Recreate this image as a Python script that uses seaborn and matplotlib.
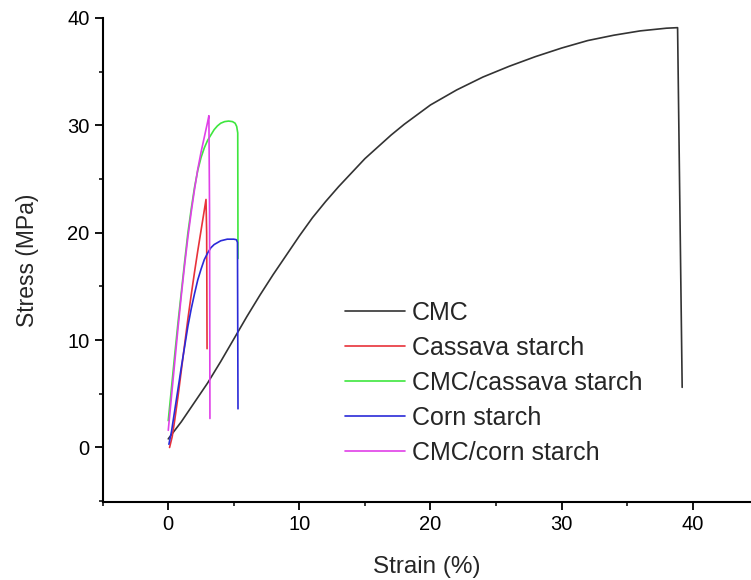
import matplotlib
matplotlib.use("Agg")
import matplotlib.pyplot as plt
import seaborn as sns
import pandas as pd
from matplotlib.ticker import MultipleLocator

# ---- data ----
cmc_x = [0.0, 1.0, 2.0, 3.0, 4.0, 5.0, 6.0, 7.0, 8.0, 9.0, 10.0, 11.0, 12.0, 13.0, 14.0, 15.0,
         16.0, 17.0, 18.0, 19.0, 20.0, 22.0, 24.0, 26.0, 28.0, 30.0, 32.0, 34.0, 36.0, 38.0, 38.85, 39.2]
cmc_y = [0.8, 2.4, 4.2, 6.0, 8.0, 10.1, 12.2, 14.2, 16.1, 17.9, 19.7, 21.4, 22.9, 24.3, 25.6, 26.9,
         28.0, 29.1, 30.1, 31.0, 31.9, 33.3, 34.5, 35.5, 36.4, 37.2, 37.9, 38.4, 38.8, 39.05, 39.1, 5.6]

cassava_x = [0.1, 0.3, 0.5, 0.75, 1.0, 1.25, 1.5, 1.75, 2.0, 2.25, 2.5, 2.75, 2.88, 2.93, 2.96]
cassava_y = [0.0, 1.0, 2.6, 4.8, 7.2, 9.6, 12.0, 14.2, 16.3, 18.3, 20.2, 22.1, 23.1, 20.0, 9.2]

cmc_cassava_x = [0.0, 0.25, 0.5, 0.75, 1.0, 1.25, 1.5, 1.75, 2.0, 2.25, 2.5, 2.75, 3.0, 3.25, 3.5,
                 3.75, 4.0, 4.3, 4.6, 4.9, 5.1, 5.22, 5.3, 5.32]
cmc_cassava_y = [2.5, 5.6, 8.7, 11.7, 14.5, 17.3, 20.0, 22.2, 24.2, 25.8, 27.0, 27.9, 28.6, 29.1, 29.6,
                 29.95, 30.2, 30.35, 30.4, 30.35, 30.2, 29.9, 29.3, 17.6]

corn_x = [0.05, 0.25, 0.5, 0.75, 1.0, 1.25, 1.5, 1.75, 2.0, 2.25, 2.5, 2.75, 3.0, 3.25, 3.5, 4.0,
          4.5, 5.0, 5.2, 5.28, 5.32]
corn_y = [0.3, 1.5, 3.5, 5.5, 7.5, 9.4, 11.3, 12.9, 14.3, 15.6, 16.6, 17.5, 18.1, 18.6, 18.9, 19.25,
          19.4, 19.4, 19.35, 19.1, 3.6]

cmc_corn_x = [0.0, 0.25, 0.5, 0.75, 1.0, 1.25, 1.5, 1.75, 2.0, 2.25, 2.5, 2.75, 3.0, 3.1, 3.15, 3.18]
cmc_corn_y = [1.6, 4.8, 8.0, 11.2, 14.2, 17.0, 19.6, 21.9, 24.0, 25.9, 27.5, 28.9, 30.3, 30.9, 22.0, 2.7]

labels = ["CMC", "Cassava starch", "CMC/cassava starch", "Corn starch", "CMC/corn starch"]
colors = ["#333333", "#e8323a", "#3ee63e", "#2a2ad8", "#e040e8"]

series = [(cmc_x, cmc_y), (cassava_x, cassava_y), (cmc_cassava_x, cmc_cassava_y),
          (corn_x, corn_y), (cmc_corn_x, cmc_corn_y)]

rows = []
for lab, (xs, ys) in zip(labels, series):
    for i, (xv, yv) in enumerate(zip(xs, ys)):
        rows.append({"Strain": xv, "Stress": yv, "Sample": lab, "order": i})
df = pd.DataFrame(rows)

sns.set_style("ticks")
plt.rcParams["font.family"] = ["Liberation Sans", "DejaVu Sans"]

fig = plt.figure(figsize=(7.51, 5.80), dpi=100)
ax = fig.add_axes([102.7 / 751, 78.3 / 580, (751 - 102.7) / 751, (501.7 - 18) / 580])

sns.lineplot(data=df, x="Strain", y="Stress", hue="Sample", hue_order=labels,
             palette=colors, sort=False, estimator=None, linewidth=1.2, ax=ax)

ax.set_xlim(-5, 44.45)
ax.set_ylim(-5.05, 40)
ax.xaxis.set_major_locator(MultipleLocator(10))
ax.xaxis.set_minor_locator(MultipleLocator(5))
ax.yaxis.set_major_locator(MultipleLocator(10))
ax.yaxis.set_minor_locator(MultipleLocator(5))
ax.tick_params(which="major", direction="out", length=6, width=1.3, labelsize=14.5, colors="black")
ax.tick_params(which="minor", direction="out", length=3, width=1.3)
for s in ["top", "right"]:
    ax.spines[s].set_visible(False)
for s in ["left", "bottom"]:
    ax.spines[s].set_linewidth(1.5)
    ax.spines[s].set_color("black")

ax.set_xlabel("Strain (%)", fontsize=17.5, labelpad=16)
ax.set_ylabel("Stress (MPa)", fontsize=16.5, labelpad=20)

handles, _ = ax.get_legend_handles_labels()
ax.legend(handles, labels, frameon=False, fontsize=18, loc="upper left",
          bbox_to_anchor=(345 / 751, 1 - 301 / 580), bbox_transform=fig.transFigure,
          borderpad=0, borderaxespad=0, handlelength=2.4, handletextpad=0.28,
          labelspacing=0.44)

fig.savefig("out.png", dpi=100)
